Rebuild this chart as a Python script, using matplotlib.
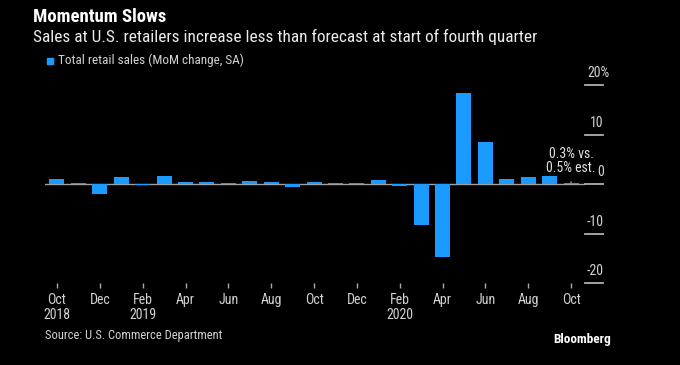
import matplotlib
matplotlib.use("Agg")
import matplotlib.pyplot as plt
import matplotlib.transforms as mtransforms

months = ["Oct 2018", "Nov 2018", "Dec 2018", "Jan 2019", "Feb 2019", "Mar 2019", "Apr 2019",
          "May 2019", "Jun 2019", "Jul 2019", "Aug 2019", "Sep 2019", "Oct 2019", "Nov 2019",
          "Dec 2019", "Jan 2020", "Feb 2020", "Mar 2020", "Apr 2020", "May 2020", "Jun 2020",
          "Jul 2020", "Aug 2020", "Sep 2020", "Oct 2020"]
values = [1.0, 0.2, -2.1, 1.5, -0.2, 1.7, 0.5, 0.4, 0.3, 0.7, 0.5, -0.6, 0.5, 0.3, 0.2,
          0.9, -0.4, -8.2, -14.7, 18.3, 8.5, 1.1, 1.4, 1.7, 0.3]
xtick_labels = ["Oct\n2018", "Dec", "Feb\n2019", "Apr", "Jun", "Aug", "Oct", "Dec",
                "Feb\n2020", "Apr", "Jun", "Aug", "Oct"]
ytick_vals = [20, 10, 0, -10, -20]
ytick_labels = ["20%", "10", "0", "-10", "-20"]
annotation = "0.3% vs.\n0.5% est."

FONT = ['Roboto Condensed', 'DejaVu Sans']
plt.rcParams['font.family'] = FONT

BLUE = "#1b9bff"
GREY = "#d2d2d2"

W, H = 680, 365
fig = plt.figure(figsize=(W / 100, H / 100), dpi=100, facecolor="black")
ax = fig.add_axes([45 / W, 1 - 283 / H, 540 / W, 198 / H], facecolor="black")

x = list(range(len(values)))
ax.bar(x, values, width=0.7, color=BLUE, zorder=2)
ax.axhline(0, color="#a0a0a0", lw=1.0, zorder=1)
ax.set_xlim(-0.56, 24.65)
ax.set_ylim(-20, 20)
for s in ax.spines.values():
    s.set_visible(False)

ax.set_xticks(x[::2])
ax.set_xticklabels(xtick_labels, color=GREY, fontsize=10, linespacing=1.05)
ax.tick_params(axis="x", length=3.5, color="#aaaaaa", width=1, pad=4)
ax.set_yticks([])

# right-hand y ticks (label sitting above a short line)
trans = mtransforms.blended_transform_factory(ax.transAxes, ax.transData)
for v, lab in zip(ytick_vals, ytick_labels):
    ax.plot([1.0, 1.033], [v, v], transform=trans, color="#b0b0b0", lw=1.3, clip_on=False)
    xr = 1.046 if lab.endswith("%") else 1.035
    ax.text(xr, v + 1.0, lab, transform=trans, ha="right", va="bottom",
            color=GREY, fontsize=10)

ax.annotate(annotation, xy=(24, values[-1]), xytext=(24, values[-1] + 1.5),
            ha="center", va="bottom", color="#e0e0e0", fontsize=10, linespacing=1.05,
            arrowprops=dict(arrowstyle="-", color="#bbbbbb", lw=1, shrinkA=3, shrinkB=0))

fig.text(33 / W, 1 - 17 / H, "Momentum Slows", color="white", fontsize=13.5, fontweight="bold",
         va="center", ha="left")
fig.text(33 / W, 1 - 37 / H,
         "Sales at U.S. retailers increase less than forecast at start of fourth quarter",
         color="#ececec", fontsize=12.4, va="center", ha="left")
fig.patches.append(plt.Rectangle((47 / W, 1 - 64 / H), 6.5 / W, 6.5 / H,
                                 transform=fig.transFigure, color=BLUE))
fig.text(58 / W, 1 - 60.5 / H, "Total retail sales (MoM change, SA)", color=GREY,
         fontsize=9.5, va="center", ha="left")
fig.text(45 / W, 1 - 335 / H, "Source: U.S. Commerce Department", color=GREY,
         fontsize=9, va="center", ha="left")
fig.text(553 / W, 1 - 340 / H, "Bloomberg", color="white", fontsize=9.5, fontweight="bold",
         va="center", ha="left")

fig.savefig("out.png", dpi=100, facecolor="black")
